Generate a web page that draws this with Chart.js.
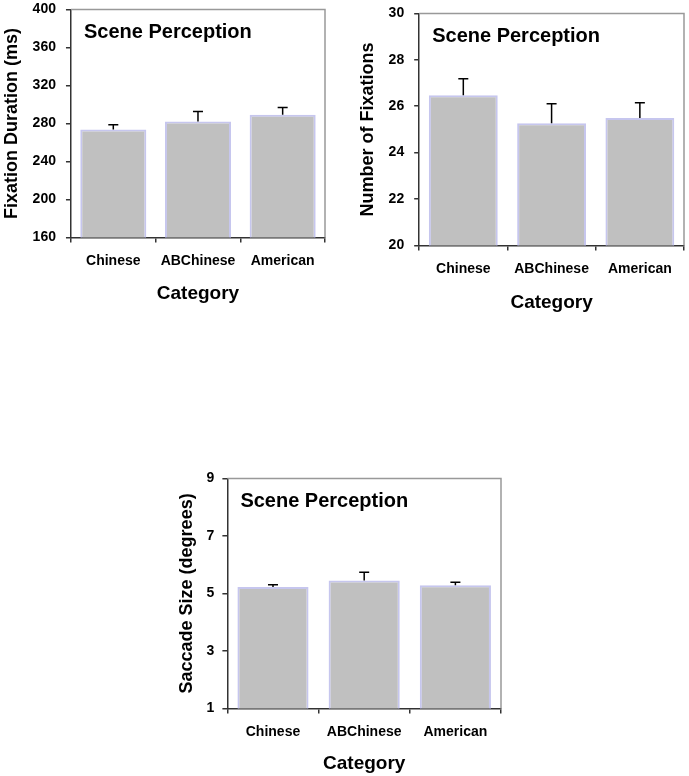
<!DOCTYPE html>
<html>
<head>
<meta charset="utf-8">
<script src="https://cdn.jsdelivr.net/npm/chart.js@4.4.1/dist/chart.umd.min.js"></script>
<style>
    html, body { margin: 0; padding: 0; background: #ffffff; }
    body { width: 689px; height: 776px; position: relative; overflow: hidden; }
    .panel { position: absolute; }
</style>
</head>
<body>
<div class="panel" style="left:0px; top:-9px; width:335px; height:314px;"><canvas id="duration-chart"></canvas></div>
<div class="panel" style="left:350px; top:-5px; width:339px; height:319px;"><canvas id="fixation-chart"></canvas></div>
<div class="panel" style="left:160px; top:462px; width:360px; height:313px;"><canvas id="saccade-chart"></canvas></div>
<script>
const categories = ['Chinese', 'ABChinese', 'American'];

const durationMeans = [273.7, 282.1, 289.2];
const durationErrors = [5.0, 10.5, 7.6];
const durationTicks = [160, 400, 40];

const fixationMeans = [26.47, 25.27, 25.49];
const fixationErrors = [0.71, 0.84, 0.66];
const fixationTicks = [20, 30, 2];

const saccadeMeans = [5.22, 5.45, 5.28];
const saccadeErrors = [0.08, 0.29, 0.11];
const saccadeTicks = [1, 9, 2];

const FONT = '"Liberation Sans", Arial, sans-serif';

// upper error bars, grey frame on top/right, and the caption inside the plot
const decorPlugin = {
    id: 'decor',
    afterDatasetsDraw(chart, args, opts) {
        const ctx = chart.ctx;
        const area = chart.chartArea;
        const yScale = chart.scales.y;
        const meta = chart.getDatasetMeta(0);
        const ds = chart.data.datasets[0];

        ctx.save();
        ctx.strokeStyle = '#000000';
        ctx.lineWidth = 1.5;
        meta.data.forEach(function(bar, i) {
            const top = yScale.getPixelForValue(ds.data[i] + opts.errors[i]);
            ctx.beginPath();
            ctx.moveTo(bar.x, bar.y);
            ctx.lineTo(bar.x, top);
            ctx.moveTo(bar.x - 5, top);
            ctx.lineTo(bar.x + 5, top);
            ctx.stroke();
        });

        ctx.strokeStyle = '#999999';
        ctx.lineWidth = 1.5;
        ctx.beginPath();
        ctx.moveTo(area.left, area.top);
        ctx.lineTo(area.right, area.top);
        ctx.lineTo(area.right, area.bottom);
        ctx.stroke();

        ctx.fillStyle = '#000000';
        ctx.font = 'bold 20px ' + FONT;
        ctx.textBaseline = 'middle';
        ctx.textAlign = 'left';
        ctx.fillText('Scene Perception', area.left + 13, area.top + 23);
        ctx.restore();
    }
};

function makeChart(id, values, errors, ticks, yTitle, pad, gaps) {
    return new Chart(document.getElementById(id), {
        type: 'bar',
        data: {
            labels: categories,
            datasets: [{
                data: values,
                backgroundColor: '#c0c0c0',
                borderColor: '#c6c6ee',
                borderWidth: 2,
                borderSkipped: 'bottom',
                barPercentage: 0.78,
                categoryPercentage: 1.0,
            }]
        },
        options: {
            responsive: true,
            maintainAspectRatio: false,
            animation: false,
            layout: { padding: pad },
            plugins: {
                legend: { display: false },
                tooltip: { enabled: false },
                decor: { errors: errors },
            },
            scales: {
                x: {
                    grid: {
                        display: true,
                        drawOnChartArea: false,
                        offset: true,
                        color: '#333333',
                        tickLength: 5,
                        lineWidth: 1.5,
                    },
                    border: { color: '#333333', width: 1.5 },
                    ticks: {
                        color: '#000000',
                        padding: gaps.xTick,
                        maxRotation: 0,
                        font: { family: FONT, size: 14, weight: 'bold' },
                    },
                    title: {
                        display: true,
                        text: 'Category',
                        color: '#000000',
                        padding: { top: gaps.xTitle, bottom: 0 },
                        font: { family: FONT, size: 19, weight: 'bold' },
                    }
                },
                y: {
                    min: ticks[0],
                    max: ticks[1],
                    grid: {
                        display: true,
                        drawOnChartArea: false,
                        color: '#333333',
                        tickLength: 5,
                        lineWidth: 1.5,
                    },
                    border: { color: '#333333', width: 1.5 },
                    ticks: {
                        stepSize: ticks[2],
                        color: '#000000',
                        padding: gaps.yTick,
                        font: { family: FONT, size: 14, weight: 'bold' },
                    },
                    title: {
                        display: true,
                        text: yTitle,
                        color: '#000000',
                        padding: { top: 0, bottom: gaps.yTitle },
                        font: { family: FONT, size: 18, weight: 'bold' },
                    }
                }
            }
        },
        plugins: [decorPlugin]
    });
}

makeChart('duration-chart', durationMeans, durationErrors, durationTicks, 'Fixation Duration (ms)',
    { left: 1, top: 0, right: 10, bottom: 0 }, { xTick: 10, xTitle: 3, yTick: 10, yTitle: 0 });
makeChart('fixation-chart', fixationMeans, fixationErrors, fixationTicks, 'Number of Fixations',
    { left: 7, top: 0, right: 5, bottom: 0 }, { xTick: 10, xTitle: 4, yTick: 10, yTitle: 0 });
makeChart('saccade-chart', saccadeMeans, saccadeErrors, saccadeTicks, 'Saccade Size (degrees)',
    { left: 16, top: 0, right: 19, bottom: 0 }, { xTick: 10.5, xTitle: 1, yTick: 8, yTitle: 1 });
</script>
</body>
</html>
